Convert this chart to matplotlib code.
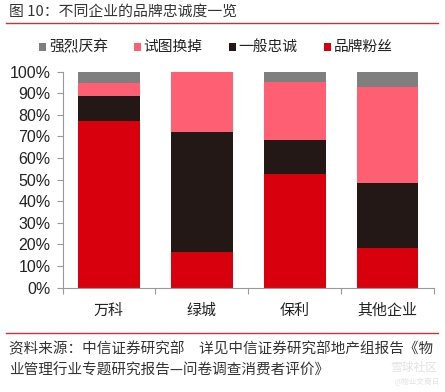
# -*- coding: utf-8 -*-
import numpy as np
import matplotlib.pyplot as plt
from matplotlib.lines import Line2D
from matplotlib.patches import Rectangle

plt.rcParams['font.family'] = ['Noto Sans CJK SC', 'DejaVu Sans']

companies = ['万科', '绿城', '保利', '其他企业']
fans = [77, 16.5, 52.5, 18.5]
loyal = [11.5, 55.5, 16, 30]
switching = [6, 28, 26.5, 44.5]
dislike = [5.5, 0, 5, 7]
y_ticks = [0, 10, 20, 30, 40, 50, 60, 70, 80, 90, 100]

W, H = 445, 392
fig = plt.figure(figsize=(W / 100, H / 100), dpi=100)
ax = fig.add_axes([62.5 / W, 1 - 287.5 / H, (434 - 62.5) / W, 216 / H])

x = np.arange(len(companies))
bottom = np.zeros(len(companies))
series = [(fans, '#d9000d'), (loyal, '#231815'), (switching, '#ff5f73'), (dislike, '#7f7f7f')]
for vals, color in series:
    ax.bar(x, vals, width=0.665, bottom=bottom, color=color)
    bottom += np.array(vals)

ax.set_xlim(-0.5, 3.5)
ax.set_ylim(0, 100)
ax.set_yticks(y_ticks)
ax.set_yticklabels([f'{v}%' for v in y_ticks], fontsize=11.5, color='#222222',
                   family=['Liberation Sans'])
ax.set_xticks(np.arange(-0.5, 4, 1))
ax.set_xticklabels([])
ax.tick_params(axis='both', color='#999999', length=4.5, width=0.8, pad=4)
ax.tick_params(axis='x', direction='out')
for name in ['top', 'right']:
    ax.spines[name].set_visible(False)
for name in ['left', 'bottom']:
    ax.spines[name].set_color('#999999')
    ax.spines[name].set_linewidth(0.8)
for i, name in zip(x, companies):
    fig.text((62.5 + 46.4 * (2 * i + 1)) / W, 1 - 311 / H, name, ha='center', va='center',
             fontsize=10.8, color='#222222')

# 图例
legend_names = ['强烈厌弃', '试图换掉', '一般忠诚', '品牌粉丝']
legend_colors = ['#7f7f7f', '#ff5f73', '#231815', '#d9000d']
legend_x = [39, 133.5, 228.5, 323.5]
for lx, name, color in zip(legend_x, legend_names, legend_colors):
    fig.add_artist(Rectangle((lx / W, 1 - 50.5 / H), 7 / W, 7 / H, color=color, linewidth=0,
                             transform=fig.transFigure))
    fig.text((lx + 10) / W, 1 - 47 / H, name, ha='left', va='center', fontsize=10.6, color='#222222')

# 标题和来源
fig.text(9 / W, 1 - 12 / H, '图 10：不同企业的品牌忠诚度一览', ha='left', va='center',
         fontsize=10.7, color='#333333')
for y in [22.5, 333]:
    fig.add_artist(Line2D([6 / W, 438 / W], [1 - y / H, 1 - y / H], color='#c8323c', linewidth=1,
                          transform=fig.transFigure))
fig.text(9 / W, 1 - 349 / H, '资料来源：中信证券研究部　详见中信证券研究部地产组报告《物', ha='left',
         va='center', fontsize=10.5, color='#333333')
fig.text(9 / W, 1 - 371 / H, '业管理行业专题研究报告—问卷调查消费者评价》', ha='left', va='center',
         fontsize=10.5, color='#333333')

# 水印
fig.text(414 / W, 1 - 367 / H, '雪球社区', ha='center', va='center', fontsize=8.5, color='#e2e2e2')
fig.text(417 / W, 1 - 382.5 / H, '@物业文商日', ha='center', va='center', fontsize=5.5, color='#e2e2e2')

fig.savefig('out.png', dpi=100)
